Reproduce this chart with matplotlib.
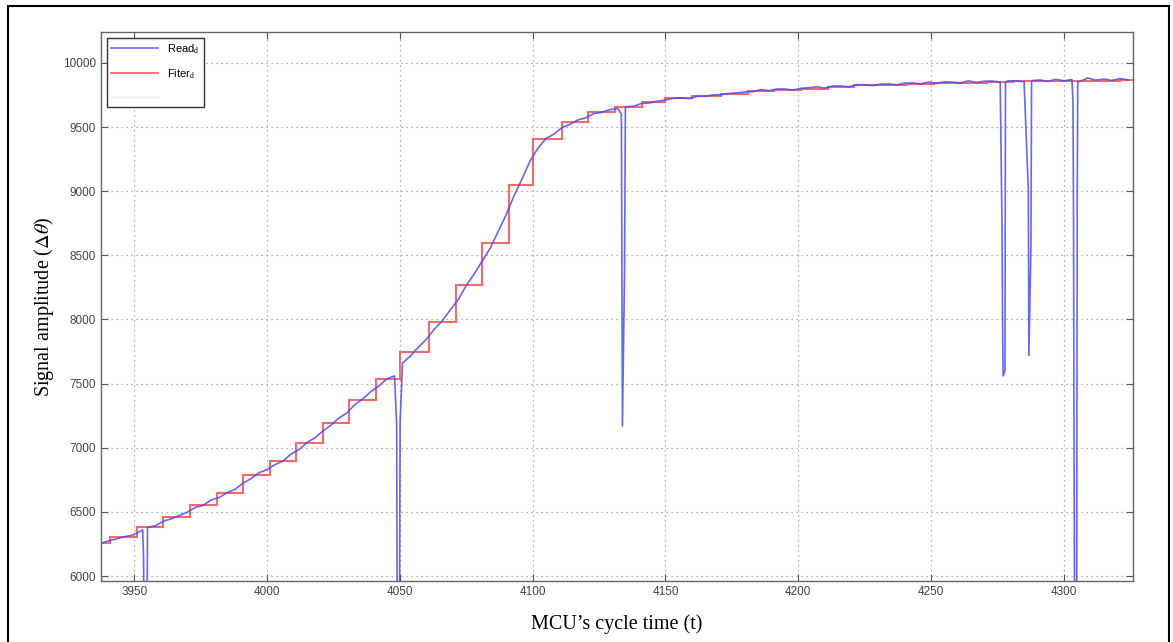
import numpy as np
import matplotlib.pyplot as plt
from matplotlib.lines import Line2D
from matplotlib.patches import Rectangle

# Raw sensor reading, sampled every 3 cycles starting at t = 3937
read_t = np.arange(3937, 4325, 3)
read_vals = [
    6250, 6272, 6288, 6305, 6316, 6345, 6378, 6392, 6428, 6446,
    6472, 6498, 6535, 6552, 6594, 6612, 6650, 6676, 6724, 6760,
    6805, 6830, 6868, 6896, 6950, 6985, 7040, 7076, 7130, 7175,
    7230, 7270, 7335, 7380, 7436, 7480, 7535, 7560, 7660, 7715,
    7785, 7845, 7925, 7990, 8075, 8155, 8265, 8355, 8455, 8555,
    8685, 8815, 8965, 9095, 9235, 9335, 9410, 9445, 9495, 9520,
    9555, 9572, 9605, 9615, 9635, 9645, 9658, 9662, 9684, 9688,
    9702, 9710, 9724, 9726, 9722, 9740, 9740, 9750, 9753, 9762,
    9766, 9774, 9776, 9792, 9783, 9797, 9796, 9788, 9802, 9806,
    9814, 9803, 9820, 9820, 9813, 9830, 9828, 9823, 9834, 9836,
    9828, 9842, 9843, 9836, 9850, 9840, 9852, 9850, 9843, 9860,
    9848, 9857, 9858, 9850, 9860, 9860, 9853, 9862, 9866, 9856,
    9872, 9860, 9870, 9856, 9882, 9866, 9874, 9863, 9877, 9868,
]

# Dropouts in the raw reading
glitch_t = [3953.2, 3953.5, 3953.7, 3954.9,
            4048.8, 4049.0, 4049.9, 4050.1,
            4133.4, 4133.6, 4133.8, 4134.6, 4134.9,
            4276.7, 4276.9, 4277.1, 4277.8, 4278.0,
            4286.6, 4286.8, 4287.6, 4287.8,
            4303.4, 4303.6, 4303.8, 4304.0, 4304.8, 4305.0, 4305.2]
glitch_vals = [6360, 6150, 5800, 5800,
               7180, 5800, 5800, 7200,
               9600, 8400, 7170, 8400, 9640,
               8700, 7950, 7560, 7600, 9850,
               9000, 7720, 8600, 9850,
               9700, 8870, 6940, 5800, 5800, 8870, 9850]

# Filter output: held value between update times
filt_edges = [3937, 3941, 3951, 3961, 3971, 3981, 3991, 4001, 4011, 4021,
              4031, 4041, 4050, 4061, 4071, 4081, 4091, 4100, 4111, 4121,
              4131, 4141, 4150, 4160, 4171, 4181, 4191, 4201, 4211, 4221,
              4231, 4241, 4251, 4261, 4271, 4281, 4291, 4301, 4311, 4321, 4326]
filt_vals = [6257, 6304, 6382, 6460, 6553, 6647, 6787, 6895, 7036, 7192,
             7371, 7534, 7745, 7978, 8266, 8593, 9045, 9403, 9536, 9614,
             9660, 9692, 9723, 9738, 9760, 9777, 9790, 9800, 9810, 9824,
             9830, 9835, 9840, 9845, 9850, 9855, 9858, 9860, 9862, 9865]

# merge the raw samples with the dropout points
t_all = np.concatenate([read_t, glitch_t])
v_all = np.concatenate([read_vals, glitch_vals])
order = np.argsort(t_all, kind='stable')
t_all, v_all = t_all[order], v_all[order]

plt.rcParams['mathtext.fontset'] = 'stix'

fig = plt.figure(figsize=(11.73, 6.42), dpi=100)
ax = fig.add_axes([0.0861, 0.095, 0.8798, 0.855])

ax.plot(t_all, v_all, color='#4b4bff', lw=1.2, alpha=0.85)
ax.stairs(filt_vals, filt_edges, color='#ff4040', lw=1.5, alpha=0.8, baseline=None)

ax.set_xlim(3937.5, 4326)
ax.set_ylim(5961, 10240)
ax.set_xticks(np.arange(3950, 4301, 50))
ax.set_yticks(np.arange(6000, 10001, 500))
ax.grid(True, linestyle=(0, (1, 3)), color='#999999', lw=0.9)
ax.tick_params(direction='in', length=5, top=True, right=True, color='#555555',
               labelsize=8.5, labelcolor='#444444')
for lab in ax.get_xticklabels() + ax.get_yticklabels():
    lab.set_fontfamily('Liberation Sans')
for s in ax.spines.values():
    s.set_color('#666666')
    s.set_linewidth(1.0)

handles = [Line2D([], [], color='#6b6bff', lw=1.2),
           Line2D([], [], color='#ff5a5a', lw=1.2),
           Line2D([], [], color='#e8e8e8', lw=1.0)]
leg = ax.legend(handles, ['Read$_{\\mathrm{d}}$', 'Fiter$_{\\mathrm{d}}$', ' '],
                loc='upper left', fancybox=False, edgecolor='#333333',
                prop={'family': 'Liberation Sans', 'size': 8},
                borderaxespad=0.5, handlelength=4.2, labelspacing=1.05,
                framealpha=1)
leg.get_frame().set_linewidth(1.0)

ax.set_xlabel('MCU\u2019s cycle time (t)', family='Liberation Serif', fontsize=14.5,
              labelpad=12)
ax.set_ylabel('Signal amplitude ($\\Delta\\theta$)', family='Liberation Serif',
              fontsize=14.5, labelpad=5)

# outer frame
fig.patches.append(Rectangle((8 / 1173, -0.01), 1161 / 1173, 1.0, transform=fig.transFigure,
                             fill=False, edgecolor='black', lw=1.5))

fig.savefig('out.png', dpi=100)
